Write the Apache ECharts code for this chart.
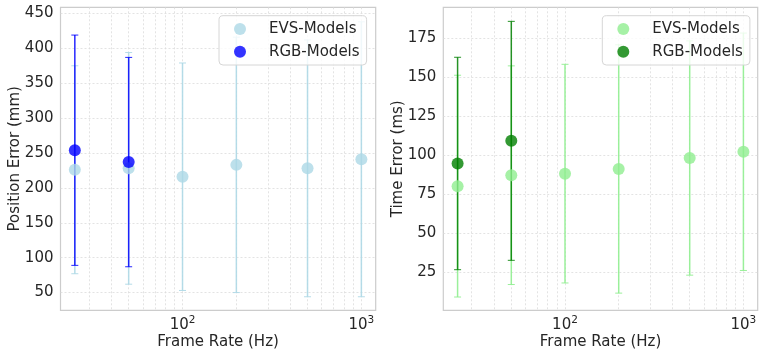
<!DOCTYPE html>
<html><head><meta charset="utf-8">
<script src="https://cdn.jsdelivr.net/npm/echarts@6/dist/echarts.min.js"></script>
<style>
html,body{margin:0;padding:0;background:#fff;}
#wrap{position:relative;width:764px;height:357px;overflow:hidden;}
.c{position:absolute;top:0;height:357px;width:382px;}
</style>
</head><body>
<div id="wrap"><div id="c1" class="c" style="left:0"></div><div id="c2" class="c" style="left:382px"></div></div>
<script>
// ---------- data ----------
const evsFrameRates = [25, 50, 100, 200, 500, 1000];
const rgbFrameRates = [25, 50];

const posEvsMean = [226, 228, 216, 233, 228, 241];
const posEvsStd  = [149, 166, 163, 183, 184, 197];
const posRgbMean = [254, 237];
const posRgbStd  = [165, 150];

const timeEvsMean = [80, 87, 88, 91, 98, 102];
const timeEvsStd  = [71, 70, 70, 79.5, 75, 76];
const timeRgbMean = [94.5, 109];
const timeRgbStd  = [68, 76.5];

const xMajorDecades = [100, 1000];
const xMinorRates = [30, 40, 50, 60, 70, 80, 90, 200, 300, 400, 500, 600, 700, 800, 900];
const posYTicks = [50, 100, 150, 200, 250, 300, 350, 400, 450];
const timeYTicks = [25, 50, 75, 100, 125, 150, 175];

// ---------- helpers ----------
const FONT = 'DejaVu Sans';
const TXT = '#262626';
const lg = Math.log10;

function errorSeries(name, rates, mean, std, color, lw) {
  return {
    type: 'custom', name: name + '-err', silent: true, z: 2,
    data: rates.map((r, i) => [lg(r), mean[i] - std[i], mean[i] + std[i]]),
    encode: {x: 0, y: [1, 2]},
    renderItem: function (params, api) {
      const x = api.value(0);
      const p0 = api.coord([x, api.value(1)]);
      const p1 = api.coord([x, api.value(2)]);
      const cw = 3.5;
      const st = {stroke: color, lineWidth: lw, fill: null};
      return {type: 'group', children: [
        {type: 'line', shape: {x1: p0[0], y1: p0[1], x2: p1[0], y2: p1[1]}, style: st},
        {type: 'line', shape: {x1: p0[0] - cw, y1: p0[1], x2: p0[0] + cw, y2: p0[1]}, style: {stroke: color, lineWidth: 1}},
        {type: 'line', shape: {x1: p1[0] - cw, y1: p1[1], x2: p1[0] + cw, y2: p1[1]}, style: {stroke: color, lineWidth: 1}}
      ]};
    }
  };
}

function scatterSeries(name, rates, mean, color) {
  return {
    type: 'scatter', name: name, z: 3,
    symbol: 'circle', symbolSize: 12,
    itemStyle: {color: color, opacity: 1},
    data: rates.map((r, i) => [lg(r), mean[i]])
  };
}

function build(el, cfg) {
  const chart = echarts.init(el, null, {renderer: 'canvas'});
  const xlo = lg(evsFrameRates[0]), xhi = lg(evsFrameRates[evsFrameRates.length - 1]);
  const xm = (xhi - xlo) * 0.05;
  const gridLines = xMinorRates.concat(xMajorDecades).map(lg);
  const option = {
    animation: false,
    backgroundColor: '#fff',
    textStyle: {fontFamily: FONT},
    grid: {left: cfg.gridLeft, top: 7.3, width: cfg.gridWidth, height: 303,
           outerBoundsMode: 'none', containLabel: false,
           show: true, borderColor: '#cccccc', borderWidth: 1.2, backgroundColor: 'transparent'},
    legend: {
      orient: 'vertical', left: cfg.legendLeft, top: 15.7,
      data: ['EVS-Models', 'RGB-Models'],
      icon: 'circle', itemWidth: 12, itemHeight: 12, itemGap: 4.7,
      padding: [4.3, 7, 4.3, 15],
      backgroundColor: 'rgba(255,255,255,0.8)', borderColor: '#d6d6d6', borderWidth: 1, borderRadius: 4,
      textStyle: {fontFamily: FONT, fontSize: 15, color: TXT, lineHeight: 18, padding: [0, 0, 0, 18]},
      selectedMode: false
    },
    xAxis: {
      type: 'value', min: xlo - xm, max: xhi + xm,
      name: 'Frame Rate (Hz)', nameLocation: 'middle', nameGap: 24, nameMoveOverlap: false,
      nameTextStyle: {fontFamily: FONT, fontSize: 15, color: TXT},
      axisLine: {show: false},
      axisTick: {show: false, customValues: gridLines},
      splitLine: {show: true, lineStyle: {color: '#dcdcdc', width: 0.8, type: [2, 2]}},
      axisLabel: {
        customValues: xMajorDecades.map(lg), margin: 4,
        formatter: function (v) { return '{a|10}{b|' + Math.round(v) + '}'; },
        rich: {
          a: {fontFamily: FONT, fontSize: 15, color: TXT, verticalAlign: 'bottom', padding: [3, 0, 0, 0]},
          b: {fontFamily: FONT, fontSize: 10.5, color: TXT, verticalAlign: 'top'}
        }
      }
    },
    yAxis: {
      type: 'value', min: cfg.ymin, max: cfg.ymax,
      name: cfg.yName, nameLocation: 'middle', nameGap: 38, nameMoveOverlap: false,
      nameTextStyle: {fontFamily: FONT, fontSize: 15, color: TXT},
      axisLine: {show: false},
      axisTick: {show: false, customValues: cfg.yTicks},
      splitLine: {show: true, lineStyle: {color: '#dcdcdc', width: 0.8, type: [2, 2]}},
      axisLabel: {customValues: cfg.yTicks, margin: 7, fontFamily: FONT, fontSize: 15, color: TXT}
    },
    series: [
      errorSeries('EVS-Models', evsFrameRates, cfg.evsMean, cfg.evsStd, cfg.evsLine, 1.5),
      scatterSeries('EVS-Models', evsFrameRates, cfg.evsMean, cfg.evsColor),
      errorSeries('RGB-Models', rgbFrameRates, cfg.rgbMean, cfg.rgbStd, cfg.rgbLine, 1.5),
      scatterSeries('RGB-Models', rgbFrameRates, cfg.rgbMean, cfg.rgbColor)
    ]
  };
  chart.setOption(option);
}

build(document.getElementById('c1'), {
  gridLeft: 60.5, gridWidth: 315.2, legendLeft: 219,
  ymin: 24.6, ymax: 458.8, yTicks: posYTicks, yName: 'Position Error (mm)',
  evsMean: posEvsMean, evsStd: posEvsStd, rgbMean: posRgbMean, rgbStd: posRgbStd,
  evsColor: 'rgba(173,216,230,0.8)', evsLine: 'rgba(173,216,230,0.9)',
  rgbColor: 'rgba(0,0,255,0.8)', rgbLine: 'rgba(0,0,255,0.85)'
});
build(document.getElementById('c2'), {
  gridLeft: 61.3, gridWidth: 314.4, legendLeft: 220.3,
  ymin: 0.5, ymax: 194.5, yTicks: timeYTicks, yName: 'Time Error (ms)',
  evsMean: timeEvsMean, evsStd: timeEvsStd, rgbMean: timeRgbMean, rgbStd: timeRgbStd,
  evsColor: 'rgba(144,238,144,0.8)', evsLine: 'rgba(144,238,144,0.9)',
  rgbColor: 'rgba(0,128,0,0.8)', rgbLine: 'rgba(0,128,0,0.85)'
});
</script>
</body></html>
